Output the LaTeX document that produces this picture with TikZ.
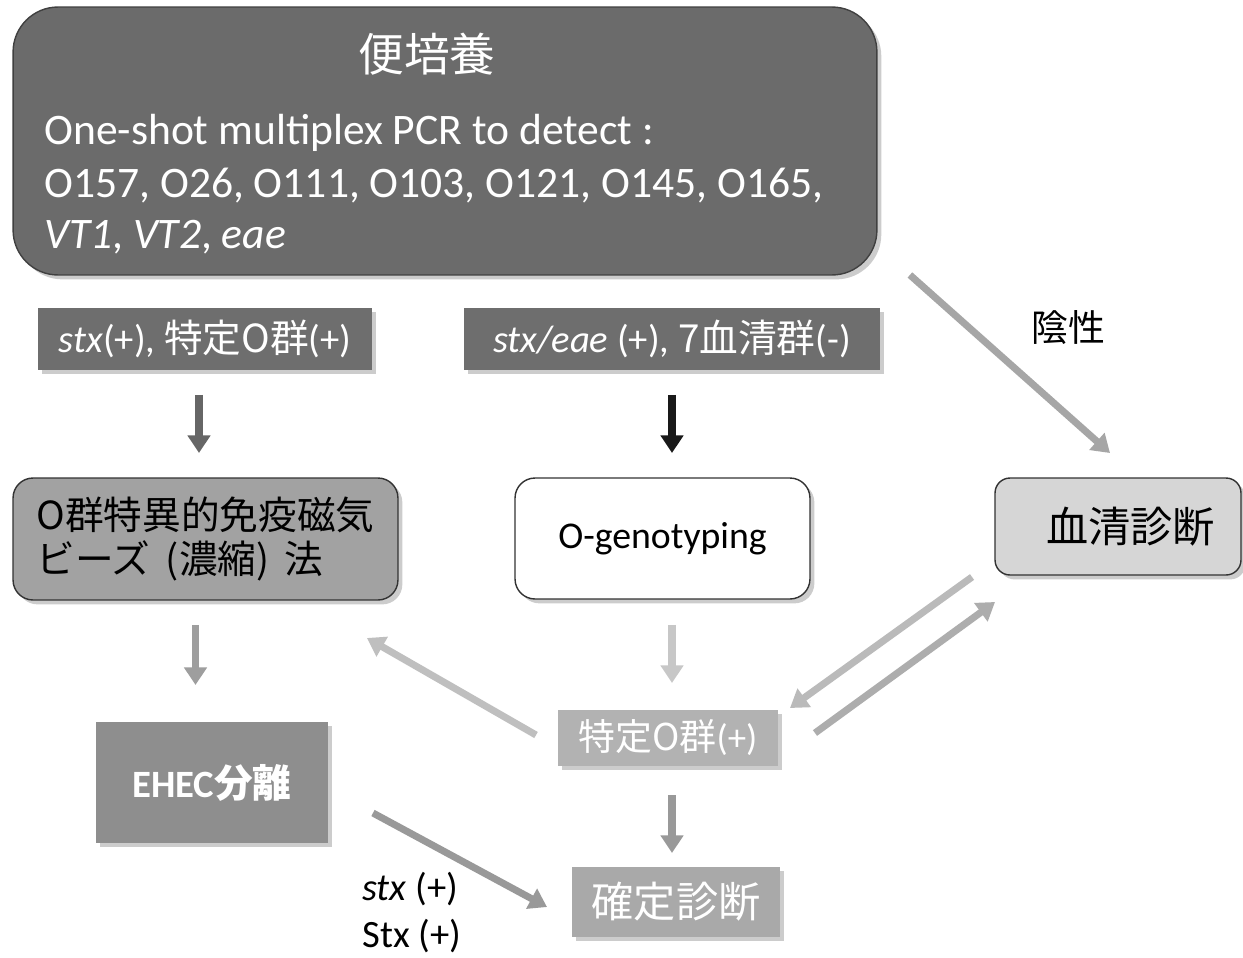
\documentclass[tikz,border=0pt]{standalone}
\usepackage{fontspec}
\setmainfont{Carlito}
\newfontfamily\jp{Noto Sans CJK JP}
\usetikzlibrary{arrows.meta,shadows}
\definecolor{dkbox}{HTML}{6B6B6B}
\definecolor{lbbox}{HTML}{6E6E6E}
\definecolor{immbox}{HTML}{A2A2A2}
\definecolor{serbox}{HTML}{D6D6D6}
\definecolor{ehecbox}{HTML}{8E8E8E}
\definecolor{tokbox}{HTML}{B2B2B2}
\definecolor{kakubox}{HTML}{A9A9A9}
\begin{document}
\begin{tikzpicture}[x=0.02cm,y=-0.02cm,
  shd/.style={drop shadow={shadow xshift=2.5pt,shadow yshift=-2.5pt,fill=black,opacity=0.2}},
  boxbase/.style={inner sep=0pt,outer sep=0pt,shd},
  rbox/.style={boxbase,rounded corners=0.4cm,draw=black!80,line width=0.8pt},
  flat/.style={boxbase,text=white},
  arr/.style={line width=4pt,-{Triangle[length=10pt,width=12.5pt]}},
  bodytext/.style={anchor=base west,inner sep=0pt,text=white,font=\fontsize{24.8pt}{29pt}\selectfont},
]
\useasboundingbox[fill=white] (0,0) rectangle (1243,957);

% top box
\node[boxbase,rounded corners=0.9cm,draw=black!75,line width=0.8pt,fill=dkbox,
      minimum width=17.28cm,minimum height=5.36cm] (top) at (445,141) {};
\node[text=white,font=\jp\fontsize{26pt}{30pt}\selectfont] (tit) at (427,54) {便培養};
\node[bodytext] (l1) at (44,144) {One-shot multiplex PCR to detect :};
\node[bodytext] (l2) at (44,197) {O157, O26, O111, O103, O121, O145, O165,};
\node[bodytext] (l3) at (44,248) {\textit{VT1}, \textit{VT2}, \textit{eae}};

% label boxes
\node[flat,fill=lbbox,minimum width=6.68cm,minimum height=1.24cm,
      font=\fontsize{22pt}{26pt}\selectfont] (lab1) at (205,339)
      {\textit{stx}(+), {\jp 特定O群}(+)};
\node[flat,fill=lbbox,minimum width=8.32cm,minimum height=1.24cm,
      font=\fontsize{22pt}{26pt}\selectfont] (lab2) at (672,339)
      {\textit{stx/eae} (+), {\jp 7血清群}(-)};

% middle row
\node[rbox,fill=immbox,minimum width=7.7cm,minimum height=2.44cm,align=left,
      font=\jp\fontsize{22pt}{25.5pt}\selectfont] (imm) at (205.5,539)
      {O群特異的免疫磁気\\ビーズ\hspace{0.4em}(濃縮)\hspace{0.4em}法\hspace*{0.7cm}};
\node[rbox,fill=white,minimum width=5.9cm,minimum height=2.42cm,
      font=\fontsize{21.5pt}{25pt}\selectfont] (geno) at (662.5,538.5) {O-genotyping};
\node[rbox,rounded corners=0.3cm,fill=serbox,minimum width=4.92cm,minimum height=1.94cm,
      font=\jp\fontsize{24pt}{28pt}\selectfont] (sero) at (1118,526.5) {\hspace*{0.5cm}血清診断};
\node[font=\jp\fontsize{21pt}{24pt}\selectfont] (neg) at (1068,328) {陰性};

% lower row
\node[flat,fill=ehecbox,minimum width=4.64cm,minimum height=2.42cm,
      font=\bfseries\fontsize{22pt}{26pt}\selectfont] (ehec) at (212,782.5) {EHEC{\jp\bfseries 分離}};
\node[flat,fill=tokbox,minimum width=4.4cm,minimum height=1.12cm,
      font=\fontsize{21pt}{24pt}\selectfont] (tok) at (668,738) {{\jp 特定O群}(+)};
\node[flat,fill=kakubox,minimum width=4.16cm,minimum height=1.4cm,
      font=\jp\fontsize{24pt}{28pt}\selectfont] (kaku) at (676,902) {確定診断};
\node[anchor=base west,inner sep=0pt,font=\fontsize{22pt}{26pt}\selectfont] (stx1) at (362,900) {\textit{stx} (+)};
\node[anchor=base west,inner sep=0pt,font=\fontsize{22pt}{26pt}\selectfont] (stx2) at (362,947) {Stx (+)};

% arrows
\draw[arr,draw=black!60,shorten <=0.5cm,shorten >=0.5cm]
  ([xshift=-0.12cm]lab1.south) -- ([xshift=-0.12cm]lab1.south |- imm.north);
\draw[arr,draw=black!90,shorten <=0.5cm,shorten >=0.5cm]
  (lab2.south) -- (lab2.south |- geno.north);
\draw[arr,draw=black!38,shorten <=0.5cm,shorten >=0.74cm]
  ([xshift=-0.2cm]imm.south) -- ([xshift=-0.2cm]imm.south |- ehec.north);
\draw[arr,draw=black!22,shorten <=0.52cm,shorten >=0.54cm]
  ([xshift=0.19cm]geno.south) -- ([xshift=0.19cm]geno.south |- tok.north);
\draw[arr,draw=black!40,shorten <=0.58cm,shorten >=0.28cm]
  ([xshift=0.08cm]tok.south) -- ([xshift=0.08cm]tok.south |- kaku.north);
\draw[arr,draw=black!25]
  ([shift={(-22,-3)}]tok.west) -- ([shift={(-31,38)}]imm.south east);
\draw[arr,draw=black!27]
  ([shift={(-23,2)}]sero.south west) -- ([shift={(12,-2)}]tok.north east);
\draw[arr,draw=black!32]
  ([shift={(37,-5)}]tok.east) -- ([shift={(0,27)}]sero.south west);
\draw[arr,draw=black!35]
  ([shift={(33,0)}]top.south east) -- ([shift={(-8,-25)}]sero.north);
\draw[arr,draw=black!40]
  ([shift={(45,30.5)}]ehec.east) -- ([shift={(-25,5)}]kaku.west);
\end{tikzpicture}
\end{document}
